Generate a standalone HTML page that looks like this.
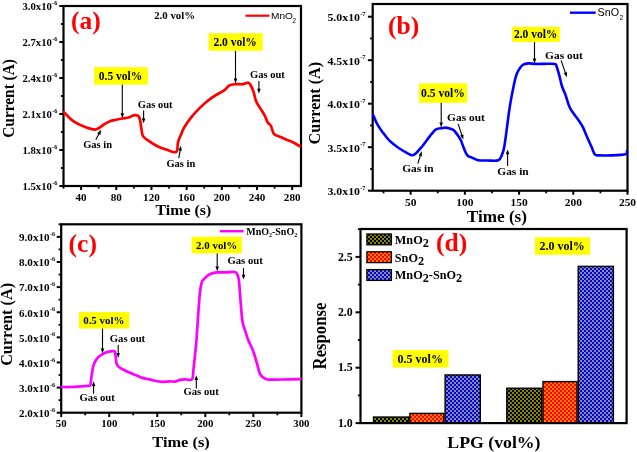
<!DOCTYPE html>
<html><head><meta charset="utf-8"><style>
html,body{margin:0;padding:0;background:#fff;}
svg{display:block;filter:blur(0.4px);}
</style></head><body>
<svg width="637" height="452" viewBox="0 0 637 452">
<rect width="637" height="452" fill="#fff"/>
<rect x="63.5" y="6" width="237.5" height="180" fill="none" stroke="#000" stroke-width="2.2"/>
<line x1="59.30" y1="6.00" x2="63.50" y2="6.00" stroke="#000" stroke-width="2"/>
<text transform="translate(51.90,10.20) scale(1.010,1)" font-size="10.60" text-anchor="end" font-weight="bold" fill="#000" font-family='"Liberation Serif", serif' >3.0x10</text>
<text transform="translate(52.10,5.30) scale(1.000,1)" font-size="6.10" text-anchor="start" font-weight="bold" fill="#000" font-family='"Liberation Serif", serif' >-6</text>
<line x1="59.30" y1="42.00" x2="63.50" y2="42.00" stroke="#000" stroke-width="2"/>
<text transform="translate(51.90,46.20) scale(1.010,1)" font-size="10.60" text-anchor="end" font-weight="bold" fill="#000" font-family='"Liberation Serif", serif' >2.7x10</text>
<text transform="translate(52.10,41.30) scale(1.000,1)" font-size="6.10" text-anchor="start" font-weight="bold" fill="#000" font-family='"Liberation Serif", serif' >-6</text>
<line x1="59.30" y1="78.00" x2="63.50" y2="78.00" stroke="#000" stroke-width="2"/>
<text transform="translate(51.90,82.20) scale(1.010,1)" font-size="10.60" text-anchor="end" font-weight="bold" fill="#000" font-family='"Liberation Serif", serif' >2.4x10</text>
<text transform="translate(52.10,77.30) scale(1.000,1)" font-size="6.10" text-anchor="start" font-weight="bold" fill="#000" font-family='"Liberation Serif", serif' >-6</text>
<line x1="59.30" y1="114.00" x2="63.50" y2="114.00" stroke="#000" stroke-width="2"/>
<text transform="translate(51.90,118.20) scale(1.010,1)" font-size="10.60" text-anchor="end" font-weight="bold" fill="#000" font-family='"Liberation Serif", serif' >2.1x10</text>
<text transform="translate(52.10,113.30) scale(1.000,1)" font-size="6.10" text-anchor="start" font-weight="bold" fill="#000" font-family='"Liberation Serif", serif' >-6</text>
<line x1="59.30" y1="150.00" x2="63.50" y2="150.00" stroke="#000" stroke-width="2"/>
<text transform="translate(51.90,154.20) scale(1.010,1)" font-size="10.60" text-anchor="end" font-weight="bold" fill="#000" font-family='"Liberation Serif", serif' >1.8x10</text>
<text transform="translate(52.10,149.30) scale(1.000,1)" font-size="6.10" text-anchor="start" font-weight="bold" fill="#000" font-family='"Liberation Serif", serif' >-6</text>
<line x1="59.30" y1="186.00" x2="63.50" y2="186.00" stroke="#000" stroke-width="2"/>
<text transform="translate(51.90,190.20) scale(1.010,1)" font-size="10.60" text-anchor="end" font-weight="bold" fill="#000" font-family='"Liberation Serif", serif' >1.5x10</text>
<text transform="translate(52.10,185.30) scale(1.000,1)" font-size="6.10" text-anchor="start" font-weight="bold" fill="#000" font-family='"Liberation Serif", serif' >-6</text>
<line x1="60.90" y1="24.00" x2="63.50" y2="24.00" stroke="#000" stroke-width="1.8"/>
<line x1="60.90" y1="60.00" x2="63.50" y2="60.00" stroke="#000" stroke-width="1.8"/>
<line x1="60.90" y1="96.00" x2="63.50" y2="96.00" stroke="#000" stroke-width="1.8"/>
<line x1="60.90" y1="132.00" x2="63.50" y2="132.00" stroke="#000" stroke-width="1.8"/>
<line x1="60.90" y1="168.00" x2="63.50" y2="168.00" stroke="#000" stroke-width="1.8"/>
<line x1="81.09" y1="186.00" x2="81.09" y2="190.00" stroke="#000" stroke-width="2"/>
<text transform="translate(81.09,200.60) scale(1.030,1)" font-size="10.80" text-anchor="middle" font-weight="bold" fill="#000" font-family='"Liberation Serif", serif' >40</text>
<line x1="116.28" y1="186.00" x2="116.28" y2="190.00" stroke="#000" stroke-width="2"/>
<text transform="translate(116.28,200.60) scale(1.030,1)" font-size="10.80" text-anchor="middle" font-weight="bold" fill="#000" font-family='"Liberation Serif", serif' >80</text>
<line x1="151.46" y1="186.00" x2="151.46" y2="190.00" stroke="#000" stroke-width="2"/>
<text transform="translate(151.46,200.60) scale(1.030,1)" font-size="10.80" text-anchor="middle" font-weight="bold" fill="#000" font-family='"Liberation Serif", serif' >120</text>
<line x1="186.65" y1="186.00" x2="186.65" y2="190.00" stroke="#000" stroke-width="2"/>
<text transform="translate(186.65,200.60) scale(1.030,1)" font-size="10.80" text-anchor="middle" font-weight="bold" fill="#000" font-family='"Liberation Serif", serif' >160</text>
<line x1="221.83" y1="186.00" x2="221.83" y2="190.00" stroke="#000" stroke-width="2"/>
<text transform="translate(221.83,200.60) scale(1.030,1)" font-size="10.80" text-anchor="middle" font-weight="bold" fill="#000" font-family='"Liberation Serif", serif' >200</text>
<line x1="257.02" y1="186.00" x2="257.02" y2="190.00" stroke="#000" stroke-width="2"/>
<text transform="translate(257.02,200.60) scale(1.030,1)" font-size="10.80" text-anchor="middle" font-weight="bold" fill="#000" font-family='"Liberation Serif", serif' >240</text>
<line x1="292.20" y1="186.00" x2="292.20" y2="190.00" stroke="#000" stroke-width="2"/>
<text transform="translate(292.20,200.60) scale(1.030,1)" font-size="10.80" text-anchor="middle" font-weight="bold" fill="#000" font-family='"Liberation Serif", serif' >280</text>
<line x1="63.50" y1="186.00" x2="63.50" y2="188.60" stroke="#000" stroke-width="1.8"/>
<line x1="98.69" y1="186.00" x2="98.69" y2="188.60" stroke="#000" stroke-width="1.8"/>
<line x1="133.87" y1="186.00" x2="133.87" y2="188.60" stroke="#000" stroke-width="1.8"/>
<line x1="169.06" y1="186.00" x2="169.06" y2="188.60" stroke="#000" stroke-width="1.8"/>
<line x1="204.24" y1="186.00" x2="204.24" y2="188.60" stroke="#000" stroke-width="1.8"/>
<line x1="239.43" y1="186.00" x2="239.43" y2="188.60" stroke="#000" stroke-width="1.8"/>
<line x1="274.61" y1="186.00" x2="274.61" y2="188.60" stroke="#000" stroke-width="1.8"/>
<text transform="translate(183.30,215.20) scale(1.060,1)" font-size="14.99" text-anchor="middle" font-weight="bold" fill="#000" font-family='"Liberation Serif", serif' >Time (s)</text>
<text transform="translate(14.0,98.4) scale(1.08,1) rotate(-90)" font-size="15.4" text-anchor="middle" font-weight="bold" font-family='"Liberation Serif", serif'>Current (A)</text>
<text transform="translate(70.90,29.20) scale(1.050,1)" font-size="24.35" text-anchor="start" font-weight="bold" fill="#ff0000" font-family='"Liberation Serif", serif' >(a)</text>
<text transform="translate(154.20,19.10) scale(1.000,1)" font-size="10.80" text-anchor="start" font-weight="bold" fill="#000" font-family='"Liberation Serif", serif' >2.0 vol%</text>
<line x1="245.50" y1="15.70" x2="269.50" y2="15.70" stroke="#ff0000" stroke-width="2.2"/>
<text transform="translate(271.00,19.40) scale(1.020,1)" font-size="9.90" text-anchor="start" font-weight="normal" fill="#000" font-family='"Liberation Sans", sans-serif' >MnO</text>
<text transform="translate(292.60,22.70) scale(1.000,1)" font-size="6.30" text-anchor="start" font-weight="normal" fill="#000" font-family='"Liberation Sans", sans-serif' >2</text>
<path d="M64.00,112.20 C65.55,113.70 69.98,118.82 73.30,121.20 C76.62,123.58 80.20,125.12 83.90,126.50 C87.60,127.88 92.18,129.83 95.50,129.50 C98.82,129.17 101.38,125.88 103.80,124.50 C106.22,123.12 107.97,121.98 110.00,121.20 C112.03,120.42 113.95,120.25 116.00,119.80 C118.05,119.35 120.47,118.83 122.30,118.50 C124.13,118.17 125.72,118.05 127.00,117.80 C128.28,117.55 129.08,117.35 130.00,117.00 C130.92,116.65 131.67,116.00 132.50,115.70 C133.33,115.40 134.17,115.23 135.00,115.20 C135.83,115.17 136.83,115.20 137.50,115.50 C138.17,115.80 138.55,116.17 139.00,117.00 C139.45,117.83 139.82,118.68 140.20,120.50 C140.58,122.32 140.80,125.25 141.30,127.90 C141.80,130.55 141.72,134.07 143.20,136.40 C144.68,138.73 147.75,140.22 150.20,141.90 C152.65,143.58 155.07,145.17 157.90,146.50 C160.73,147.83 164.15,149.00 167.20,149.90 C170.25,150.80 174.38,153.23 176.20,151.90 C178.02,150.57 177.27,144.87 178.10,141.90 C178.93,138.93 180.17,136.53 181.20,134.10 C182.23,131.67 182.50,130.25 184.30,127.30 C186.10,124.35 189.42,119.63 192.00,116.40 C194.58,113.17 197.22,110.47 199.80,107.90 C202.38,105.33 204.93,103.07 207.50,101.00 C210.07,98.93 212.37,97.32 215.20,95.50 C218.03,93.68 222.17,91.77 224.50,90.10 C226.83,88.43 227.38,86.48 229.20,85.50 C231.02,84.52 233.08,84.42 235.40,84.20 C237.72,83.98 240.92,84.45 243.10,84.20 C245.28,83.95 247.18,82.40 248.50,82.70 C249.82,83.00 250.15,84.47 251.00,86.00 C251.85,87.53 252.77,89.42 253.60,91.90 C254.43,94.38 254.93,98.23 256.00,100.90 C257.07,103.57 258.52,105.40 260.00,107.90 C261.48,110.40 263.58,113.42 264.90,115.90 C266.22,118.38 266.90,121.15 267.90,122.80 C268.90,124.45 269.90,123.97 270.90,125.80 C271.90,127.63 272.40,131.97 273.90,133.80 C275.40,135.63 277.90,135.87 279.90,136.80 C281.90,137.73 283.92,138.57 285.90,139.40 C287.88,140.23 289.45,140.67 291.80,141.80 C294.15,142.93 298.63,145.47 300.00,146.20" fill="none" stroke="#ff0000" stroke-width="2.7" stroke-linejoin="round" stroke-linecap="round"/>
<rect x="94" y="67.1" width="53.90" height="17.60" fill="#ffff00"/>
<text transform="translate(98.80,79.70) scale(1.000,1)" font-size="11.50" text-anchor="start" font-weight="bold" fill="#000" font-family='"Liberation Serif", serif' >0.5 vol%</text>
<line x1="122.30" y1="84.70" x2="122.30" y2="113.70" stroke="#000" stroke-width="1.1"/>
<polygon points="122.30,118.00 120.50,113.20 124.10,113.20" fill="#000"/>
<rect x="208.6" y="33.2" width="54.00" height="17.60" fill="#ffff00"/>
<text transform="translate(213.40,45.90) scale(1.000,1)" font-size="11.50" text-anchor="start" font-weight="bold" fill="#000" font-family='"Liberation Serif", serif' >2.0 vol%</text>
<line x1="235.50" y1="50.80" x2="235.50" y2="79.10" stroke="#000" stroke-width="1.1"/>
<polygon points="235.50,83.40 233.70,78.60 237.30,78.60" fill="#000"/>
<text transform="translate(83.20,148.40) scale(1.000,1)" font-size="10.50" text-anchor="start" font-weight="bold" fill="#000" font-family='"Liberation Serif", serif' >Gas in</text>
<line x1="95.80" y1="139.80" x2="99.09" y2="133.60" stroke="#000" stroke-width="1.1"/>
<polygon points="101.10,129.80 100.44,134.88 97.26,133.20" fill="#000"/>
<text transform="translate(137.80,108.10) scale(1.000,1)" font-size="10.50" text-anchor="start" font-weight="bold" fill="#000" font-family='"Liberation Serif", serif' >Gas out</text>
<line x1="143.60" y1="110.50" x2="143.60" y2="119.00" stroke="#000" stroke-width="1.1"/>
<polygon points="143.60,123.30 141.80,118.50 145.40,118.50" fill="#000"/>
<text transform="translate(166.40,166.80) scale(1.000,1)" font-size="10.50" text-anchor="start" font-weight="bold" fill="#000" font-family='"Liberation Serif", serif' >Gas in</text>
<line x1="178.80" y1="158.10" x2="180.18" y2="149.94" stroke="#000" stroke-width="1.1"/>
<polygon points="180.90,145.70 181.87,150.73 178.32,150.13" fill="#000"/>
<text transform="translate(250.00,78.40) scale(1.000,1)" font-size="10.50" text-anchor="start" font-weight="bold" fill="#000" font-family='"Liberation Serif", serif' >Gas out</text>
<line x1="258.90" y1="81.00" x2="258.90" y2="89.20" stroke="#000" stroke-width="1.1"/>
<polygon points="258.90,93.50 257.10,88.70 260.70,88.70" fill="#000"/>
<rect x="372.7" y="4" width="254.8" height="186.7" fill="none" stroke="#000" stroke-width="2.2"/>
<line x1="367.90" y1="16.70" x2="372.70" y2="16.70" stroke="#000" stroke-width="2"/>
<text transform="translate(360.00,21.30) scale(1.050,1)" font-size="11.30" text-anchor="end" font-weight="bold" fill="#000" font-family='"Liberation Serif", serif' >5.0x10</text>
<text transform="translate(360.20,15.50) scale(1.000,1)" font-size="6.40" text-anchor="start" font-weight="bold" fill="#000" font-family='"Liberation Serif", serif' >-7</text>
<line x1="367.90" y1="60.20" x2="372.70" y2="60.20" stroke="#000" stroke-width="2"/>
<text transform="translate(360.00,64.80) scale(1.050,1)" font-size="11.30" text-anchor="end" font-weight="bold" fill="#000" font-family='"Liberation Serif", serif' >4.5x10</text>
<text transform="translate(360.20,59.00) scale(1.000,1)" font-size="6.40" text-anchor="start" font-weight="bold" fill="#000" font-family='"Liberation Serif", serif' >-7</text>
<line x1="367.90" y1="103.70" x2="372.70" y2="103.70" stroke="#000" stroke-width="2"/>
<text transform="translate(360.00,108.30) scale(1.050,1)" font-size="11.30" text-anchor="end" font-weight="bold" fill="#000" font-family='"Liberation Serif", serif' >4.0x10</text>
<text transform="translate(360.20,102.50) scale(1.000,1)" font-size="6.40" text-anchor="start" font-weight="bold" fill="#000" font-family='"Liberation Serif", serif' >-7</text>
<line x1="367.90" y1="147.20" x2="372.70" y2="147.20" stroke="#000" stroke-width="2"/>
<text transform="translate(360.00,151.80) scale(1.050,1)" font-size="11.30" text-anchor="end" font-weight="bold" fill="#000" font-family='"Liberation Serif", serif' >3.5x10</text>
<text transform="translate(360.20,146.00) scale(1.000,1)" font-size="6.40" text-anchor="start" font-weight="bold" fill="#000" font-family='"Liberation Serif", serif' >-7</text>
<line x1="367.90" y1="190.70" x2="372.70" y2="190.70" stroke="#000" stroke-width="2"/>
<text transform="translate(360.00,195.30) scale(1.050,1)" font-size="11.30" text-anchor="end" font-weight="bold" fill="#000" font-family='"Liberation Serif", serif' >3.0x10</text>
<text transform="translate(360.20,189.50) scale(1.000,1)" font-size="6.40" text-anchor="start" font-weight="bold" fill="#000" font-family='"Liberation Serif", serif' >-7</text>
<line x1="370.10" y1="38.45" x2="372.70" y2="38.45" stroke="#000" stroke-width="1.8"/>
<line x1="370.10" y1="81.95" x2="372.70" y2="81.95" stroke="#000" stroke-width="1.8"/>
<line x1="370.10" y1="125.45" x2="372.70" y2="125.45" stroke="#000" stroke-width="1.8"/>
<line x1="370.10" y1="168.95" x2="372.70" y2="168.95" stroke="#000" stroke-width="1.8"/>
<line x1="410.65" y1="190.70" x2="410.65" y2="194.70" stroke="#000" stroke-width="2"/>
<text transform="translate(410.65,205.70) scale(1.040,1)" font-size="11.00" text-anchor="middle" font-weight="bold" fill="#000" font-family='"Liberation Serif", serif' >50</text>
<line x1="464.86" y1="190.70" x2="464.86" y2="194.70" stroke="#000" stroke-width="2"/>
<text transform="translate(464.86,205.70) scale(1.040,1)" font-size="11.00" text-anchor="middle" font-weight="bold" fill="#000" font-family='"Liberation Serif", serif' >100</text>
<line x1="519.07" y1="190.70" x2="519.07" y2="194.70" stroke="#000" stroke-width="2"/>
<text transform="translate(519.07,205.70) scale(1.040,1)" font-size="11.00" text-anchor="middle" font-weight="bold" fill="#000" font-family='"Liberation Serif", serif' >150</text>
<line x1="573.29" y1="190.70" x2="573.29" y2="194.70" stroke="#000" stroke-width="2"/>
<text transform="translate(573.29,205.70) scale(1.040,1)" font-size="11.00" text-anchor="middle" font-weight="bold" fill="#000" font-family='"Liberation Serif", serif' >200</text>
<line x1="627.50" y1="190.70" x2="627.50" y2="194.70" stroke="#000" stroke-width="2"/>
<text transform="translate(627.50,205.70) scale(1.040,1)" font-size="11.00" text-anchor="middle" font-weight="bold" fill="#000" font-family='"Liberation Serif", serif' >250</text>
<line x1="383.54" y1="190.70" x2="383.54" y2="193.30" stroke="#000" stroke-width="1.8"/>
<line x1="437.76" y1="190.70" x2="437.76" y2="193.30" stroke="#000" stroke-width="1.8"/>
<line x1="491.97" y1="190.70" x2="491.97" y2="193.30" stroke="#000" stroke-width="1.8"/>
<line x1="546.18" y1="190.70" x2="546.18" y2="193.30" stroke="#000" stroke-width="1.8"/>
<line x1="600.39" y1="190.70" x2="600.39" y2="193.30" stroke="#000" stroke-width="1.8"/>
<text transform="translate(496.90,221.50) scale(1.040,1)" font-size="16.49" text-anchor="middle" font-weight="bold" fill="#000" font-family='"Liberation Serif", serif' >Time (s)</text>
<text transform="translate(319.6,103.2) scale(1.05,1) rotate(-90)" font-size="16.1" text-anchor="middle" font-weight="bold" font-family='"Liberation Serif", serif'>Current (A)</text>
<text transform="translate(388.10,34.10) scale(1.050,1)" font-size="24.35" text-anchor="start" font-weight="bold" fill="#ff0000" font-family='"Liberation Serif", serif' >(b)</text>
<line x1="570.00" y1="12.70" x2="595.70" y2="12.70" stroke="#0000ff" stroke-width="2.4"/>
<text transform="translate(597.60,15.90) scale(1.080,1)" font-size="10.00" text-anchor="start" font-weight="normal" fill="#000" font-family='"Liberation Sans", sans-serif' >SnO</text>
<text transform="translate(619.40,19.70) scale(1.000,1)" font-size="6.80" text-anchor="start" font-weight="normal" fill="#000" font-family='"Liberation Sans", sans-serif' >2</text>
<path d="M373.20,115.00 C373.85,116.48 375.57,121.08 377.10,123.90 C378.63,126.72 380.33,129.10 382.40,131.90 C384.47,134.70 386.85,138.05 389.50,140.70 C392.15,143.35 395.35,145.73 398.30,147.80 C401.25,149.87 404.98,151.87 407.20,153.10 C409.42,154.33 410.28,155.05 411.60,155.20 C412.92,155.35 413.48,155.30 415.10,154.00 C416.72,152.70 419.08,150.05 421.30,147.40 C423.52,144.75 426.63,140.40 428.40,138.10 C430.17,135.80 430.57,135.08 431.90,133.60 C433.23,132.12 434.62,130.12 436.40,129.20 C438.18,128.28 441.08,128.37 442.60,128.10 C444.12,127.83 444.43,127.58 445.50,127.60 C446.57,127.62 447.92,127.92 449.00,128.20 C450.08,128.48 451.20,128.95 452.00,129.30 C452.80,129.65 453.13,129.70 453.80,130.30 C454.47,130.90 455.22,131.88 456.00,132.90 C456.78,133.92 457.67,135.13 458.50,136.40 C459.33,137.67 460.25,138.90 461.00,140.50 C461.75,142.10 462.33,144.25 463.00,146.00 C463.67,147.75 464.37,149.58 465.00,151.00 C465.63,152.42 466.13,153.57 466.80,154.50 C467.47,155.43 468.15,156.08 469.00,156.60 C469.85,157.12 470.38,157.00 471.90,157.60 C473.42,158.20 475.45,159.72 478.10,160.20 C480.75,160.68 484.42,160.50 487.80,160.50 C491.18,160.50 496.05,161.13 498.40,160.20 C500.75,159.27 500.95,156.97 501.90,154.90 C502.85,152.83 503.35,151.63 504.10,147.80 C504.85,143.97 505.63,137.50 506.40,131.90 C507.17,126.30 508.00,119.20 508.70,114.20 C509.40,109.20 509.83,106.30 510.60,101.90 C511.37,97.50 512.42,92.07 513.30,87.80 C514.18,83.53 515.02,79.25 515.90,76.30 C516.78,73.35 517.42,72.02 518.60,70.10 C519.78,68.18 521.38,65.92 523.00,64.80 C524.62,63.68 526.23,63.55 528.30,63.40 C530.37,63.25 532.75,63.82 535.40,63.90 C538.05,63.98 540.95,63.90 544.20,63.90 C547.45,63.90 552.83,63.47 554.90,63.90 C556.97,64.33 555.87,64.58 556.60,66.50 C557.33,68.42 558.42,72.15 559.30,75.40 C560.18,78.65 560.87,82.75 561.90,86.00 C562.93,89.25 564.25,91.43 565.50,94.90 C566.75,98.37 568.05,103.68 569.40,106.80 C570.75,109.92 572.05,111.33 573.60,113.60 C575.15,115.87 577.13,118.12 578.70,120.40 C580.27,122.68 581.57,124.45 583.00,127.30 C584.43,130.15 585.88,134.25 587.30,137.50 C588.72,140.75 590.23,143.97 591.50,146.80 C592.77,149.63 593.62,153.07 594.90,154.50 C596.18,155.93 596.50,155.25 599.20,155.40 C601.90,155.55 606.70,155.60 611.10,155.40 C615.50,155.20 622.95,154.92 625.60,154.20 C628.25,153.48 626.77,151.62 627.00,151.10" fill="none" stroke="#0000ff" stroke-width="2.6" stroke-linejoin="round" stroke-linecap="round"/>
<rect x="419.1" y="83.3" width="48.10" height="19.50" fill="#ffff00"/>
<text transform="translate(421.10,96.80) scale(1.000,1)" font-size="11.60" text-anchor="start" font-weight="bold" fill="#000" font-family='"Liberation Serif", serif' >0.5 vol%</text>
<line x1="441.20" y1="102.80" x2="441.20" y2="123.10" stroke="#000" stroke-width="1.1"/>
<polygon points="441.20,127.40 439.40,122.60 443.00,122.60" fill="#000"/>
<rect x="512.1" y="26.8" width="47.70" height="15.30" fill="#ffff00"/>
<text transform="translate(513.90,37.90) scale(1.000,1)" font-size="11.50" text-anchor="start" font-weight="bold" fill="#000" font-family='"Liberation Serif", serif' >2.0 vol%</text>
<line x1="534.50" y1="42.10" x2="534.50" y2="58.90" stroke="#000" stroke-width="1.1"/>
<polygon points="534.50,63.20 532.70,58.40 536.30,58.40" fill="#000"/>
<text transform="translate(402.20,171.70) scale(1.000,1)" font-size="11.40" text-anchor="start" font-weight="bold" fill="#000" font-family='"Liberation Serif", serif' >Gas in</text>
<line x1="417.80" y1="163.70" x2="420.41" y2="155.40" stroke="#000" stroke-width="1.1"/>
<polygon points="421.70,151.30 421.98,156.42 418.54,155.34" fill="#000"/>
<text transform="translate(447.10,120.90) scale(1.000,1)" font-size="11.40" text-anchor="start" font-weight="bold" fill="#000" font-family='"Liberation Serif", serif' >Gas out</text>
<line x1="458.10" y1="123.80" x2="461.95" y2="135.42" stroke="#000" stroke-width="1.1"/>
<polygon points="463.30,139.50 460.08,135.51 463.50,134.38" fill="#000"/>
<text transform="translate(497.30,175.30) scale(1.000,1)" font-size="11.40" text-anchor="start" font-weight="bold" fill="#000" font-family='"Liberation Serif", serif' >Gas in</text>
<line x1="507.60" y1="166.00" x2="507.60" y2="153.70" stroke="#000" stroke-width="1.1"/>
<polygon points="507.60,149.40 509.40,154.20 505.80,154.20" fill="#000"/>
<text transform="translate(545.10,59.10) scale(1.000,1)" font-size="11.40" text-anchor="start" font-weight="bold" fill="#000" font-family='"Liberation Serif", serif' >Gas out</text>
<line x1="561.10" y1="60.40" x2="565.50" y2="73.14" stroke="#000" stroke-width="1.1"/>
<polygon points="566.90,77.20 563.63,73.25 567.04,72.08" fill="#000"/>
<rect x="61.2" y="224.3" width="240.2" height="188.39999999999998" fill="none" stroke="#000" stroke-width="2.2"/>
<line x1="56.70" y1="412.70" x2="61.20" y2="412.70" stroke="#000" stroke-width="2"/>
<text transform="translate(49.60,417.00) scale(1.030,1)" font-size="10.80" text-anchor="end" font-weight="bold" fill="#000" font-family='"Liberation Serif", serif' >2.0x10</text>
<text transform="translate(49.90,411.80) scale(1.000,1)" font-size="6.20" text-anchor="start" font-weight="bold" fill="#000" font-family='"Liberation Serif", serif' >-6</text>
<line x1="56.70" y1="387.58" x2="61.20" y2="387.58" stroke="#000" stroke-width="2"/>
<text transform="translate(49.60,391.88) scale(1.030,1)" font-size="10.80" text-anchor="end" font-weight="bold" fill="#000" font-family='"Liberation Serif", serif' >3.0x10</text>
<text transform="translate(49.90,386.68) scale(1.000,1)" font-size="6.20" text-anchor="start" font-weight="bold" fill="#000" font-family='"Liberation Serif", serif' >-6</text>
<line x1="56.70" y1="362.46" x2="61.20" y2="362.46" stroke="#000" stroke-width="2"/>
<text transform="translate(49.60,366.76) scale(1.030,1)" font-size="10.80" text-anchor="end" font-weight="bold" fill="#000" font-family='"Liberation Serif", serif' >4.0x10</text>
<text transform="translate(49.90,361.56) scale(1.000,1)" font-size="6.20" text-anchor="start" font-weight="bold" fill="#000" font-family='"Liberation Serif", serif' >-6</text>
<line x1="56.70" y1="337.34" x2="61.20" y2="337.34" stroke="#000" stroke-width="2"/>
<text transform="translate(49.60,341.64) scale(1.030,1)" font-size="10.80" text-anchor="end" font-weight="bold" fill="#000" font-family='"Liberation Serif", serif' >5.0x10</text>
<text transform="translate(49.90,336.44) scale(1.000,1)" font-size="6.20" text-anchor="start" font-weight="bold" fill="#000" font-family='"Liberation Serif", serif' >-6</text>
<line x1="56.70" y1="312.22" x2="61.20" y2="312.22" stroke="#000" stroke-width="2"/>
<text transform="translate(49.60,316.52) scale(1.030,1)" font-size="10.80" text-anchor="end" font-weight="bold" fill="#000" font-family='"Liberation Serif", serif' >6.0x10</text>
<text transform="translate(49.90,311.32) scale(1.000,1)" font-size="6.20" text-anchor="start" font-weight="bold" fill="#000" font-family='"Liberation Serif", serif' >-6</text>
<line x1="56.70" y1="287.10" x2="61.20" y2="287.10" stroke="#000" stroke-width="2"/>
<text transform="translate(49.60,291.40) scale(1.030,1)" font-size="10.80" text-anchor="end" font-weight="bold" fill="#000" font-family='"Liberation Serif", serif' >7.0x10</text>
<text transform="translate(49.90,286.20) scale(1.000,1)" font-size="6.20" text-anchor="start" font-weight="bold" fill="#000" font-family='"Liberation Serif", serif' >-6</text>
<line x1="56.70" y1="261.98" x2="61.20" y2="261.98" stroke="#000" stroke-width="2"/>
<text transform="translate(49.60,266.28) scale(1.030,1)" font-size="10.80" text-anchor="end" font-weight="bold" fill="#000" font-family='"Liberation Serif", serif' >8.0x10</text>
<text transform="translate(49.90,261.08) scale(1.000,1)" font-size="6.20" text-anchor="start" font-weight="bold" fill="#000" font-family='"Liberation Serif", serif' >-6</text>
<line x1="56.70" y1="236.86" x2="61.20" y2="236.86" stroke="#000" stroke-width="2"/>
<text transform="translate(49.60,241.16) scale(1.030,1)" font-size="10.80" text-anchor="end" font-weight="bold" fill="#000" font-family='"Liberation Serif", serif' >9.0x10</text>
<text transform="translate(49.90,235.96) scale(1.000,1)" font-size="6.20" text-anchor="start" font-weight="bold" fill="#000" font-family='"Liberation Serif", serif' >-6</text>
<line x1="58.60" y1="400.14" x2="61.20" y2="400.14" stroke="#000" stroke-width="1.8"/>
<line x1="58.60" y1="375.02" x2="61.20" y2="375.02" stroke="#000" stroke-width="1.8"/>
<line x1="58.60" y1="349.90" x2="61.20" y2="349.90" stroke="#000" stroke-width="1.8"/>
<line x1="58.60" y1="324.78" x2="61.20" y2="324.78" stroke="#000" stroke-width="1.8"/>
<line x1="58.60" y1="299.66" x2="61.20" y2="299.66" stroke="#000" stroke-width="1.8"/>
<line x1="58.60" y1="274.54" x2="61.20" y2="274.54" stroke="#000" stroke-width="1.8"/>
<line x1="58.60" y1="249.42" x2="61.20" y2="249.42" stroke="#000" stroke-width="1.8"/>
<line x1="58.60" y1="224.30" x2="61.20" y2="224.30" stroke="#000" stroke-width="1.8"/>
<line x1="61.20" y1="412.70" x2="61.20" y2="417.00" stroke="#000" stroke-width="2"/>
<text transform="translate(61.20,427.30) scale(1.020,1)" font-size="10.60" text-anchor="middle" font-weight="bold" fill="#000" font-family='"Liberation Serif", serif' >50</text>
<line x1="109.24" y1="412.70" x2="109.24" y2="417.00" stroke="#000" stroke-width="2"/>
<text transform="translate(109.24,427.30) scale(1.020,1)" font-size="10.60" text-anchor="middle" font-weight="bold" fill="#000" font-family='"Liberation Serif", serif' >100</text>
<line x1="157.28" y1="412.70" x2="157.28" y2="417.00" stroke="#000" stroke-width="2"/>
<text transform="translate(157.28,427.30) scale(1.020,1)" font-size="10.60" text-anchor="middle" font-weight="bold" fill="#000" font-family='"Liberation Serif", serif' >150</text>
<line x1="205.32" y1="412.70" x2="205.32" y2="417.00" stroke="#000" stroke-width="2"/>
<text transform="translate(205.32,427.30) scale(1.020,1)" font-size="10.60" text-anchor="middle" font-weight="bold" fill="#000" font-family='"Liberation Serif", serif' >200</text>
<line x1="253.36" y1="412.70" x2="253.36" y2="417.00" stroke="#000" stroke-width="2"/>
<text transform="translate(253.36,427.30) scale(1.020,1)" font-size="10.60" text-anchor="middle" font-weight="bold" fill="#000" font-family='"Liberation Serif", serif' >250</text>
<line x1="301.40" y1="412.70" x2="301.40" y2="417.00" stroke="#000" stroke-width="2"/>
<text transform="translate(301.40,427.30) scale(1.020,1)" font-size="10.60" text-anchor="middle" font-weight="bold" fill="#000" font-family='"Liberation Serif", serif' >300</text>
<line x1="85.22" y1="412.70" x2="85.22" y2="415.30" stroke="#000" stroke-width="1.8"/>
<line x1="133.26" y1="412.70" x2="133.26" y2="415.30" stroke="#000" stroke-width="1.8"/>
<line x1="181.30" y1="412.70" x2="181.30" y2="415.30" stroke="#000" stroke-width="1.8"/>
<line x1="229.34" y1="412.70" x2="229.34" y2="415.30" stroke="#000" stroke-width="1.8"/>
<line x1="277.38" y1="412.70" x2="277.38" y2="415.30" stroke="#000" stroke-width="1.8"/>
<text transform="translate(181.00,446.70) scale(1.075,1)" font-size="15.24" text-anchor="middle" font-weight="bold" fill="#000" font-family='"Liberation Serif", serif' >Time (s)</text>
<text transform="translate(12.1,324.4) scale(1.03,1) rotate(-90)" font-size="16.2" text-anchor="middle" font-weight="bold" font-family='"Liberation Serif", serif'>Current (A)</text>
<text transform="translate(68.60,251.90) scale(1.050,1)" font-size="24.35" text-anchor="start" font-weight="bold" fill="#ff0000" font-family='"Liberation Serif", serif' >(c)</text>
<line x1="220.00" y1="231.20" x2="243.60" y2="231.20" stroke="#ff00ff" stroke-width="2.4"/>
<text x="246.2" y="235" font-size="10" font-weight="bold" font-family='"Liberation Serif", serif'>MnO<tspan font-size="6" dy="2.2">2</tspan><tspan dy="-2.2">-SnO</tspan><tspan font-size="6" dy="2.2">2</tspan></text>
<path d="M61.80,387.00 C63.27,387.00 67.37,387.12 70.60,387.00 C73.83,386.88 78.05,386.50 81.20,386.30 C84.35,386.10 87.93,386.27 89.50,385.80 C91.07,385.33 90.22,385.38 90.60,383.50 C90.98,381.62 91.37,377.33 91.80,374.50 C92.23,371.67 92.60,368.75 93.20,366.50 C93.80,364.25 94.55,362.55 95.40,361.00 C96.25,359.45 97.12,358.33 98.30,357.20 C99.48,356.07 101.07,355.05 102.50,354.20 C103.93,353.35 104.98,352.60 106.90,352.10 C108.82,351.60 112.62,351.05 114.00,351.20 C115.38,351.35 114.77,350.93 115.20,353.00 C115.63,355.07 115.92,361.23 116.60,363.60 C117.28,365.97 117.82,366.02 119.30,367.20 C120.78,368.38 123.28,369.58 125.50,370.70 C127.72,371.82 130.35,372.93 132.60,373.90 C134.85,374.87 137.27,375.80 139.00,376.50 C140.73,377.20 141.23,377.62 143.00,378.10 C144.77,378.58 147.62,378.95 149.60,379.40 C151.58,379.85 152.92,380.40 154.90,380.80 C156.88,381.20 159.07,381.72 161.50,381.80 C163.93,381.88 167.28,381.33 169.50,381.30 C171.72,381.27 173.03,381.83 174.80,381.60 C176.57,381.37 178.33,380.27 180.10,379.90 C181.87,379.53 183.42,379.48 185.40,379.40 C187.38,379.32 190.67,380.98 192.00,379.40 C193.33,377.82 192.95,373.47 193.40,369.90 C193.85,366.33 194.18,363.05 194.70,358.00 C195.22,352.95 195.90,347.08 196.50,339.60 C197.10,332.12 197.72,321.05 198.30,313.10 C198.88,305.15 199.42,297.07 200.00,291.90 C200.58,286.73 201.05,284.32 201.80,282.10 C202.55,279.88 203.17,279.92 204.50,278.60 C205.83,277.28 207.73,275.23 209.80,274.20 C211.87,273.17 214.25,272.70 216.90,272.40 C219.55,272.10 222.75,272.47 225.70,272.40 C228.65,272.33 232.68,271.70 234.60,272.00 C236.52,272.30 236.47,272.67 237.20,274.20 C237.93,275.73 238.40,276.20 239.00,281.20 C239.60,286.20 240.22,297.42 240.80,304.20 C241.38,310.98 241.77,317.47 242.50,321.90 C243.23,326.33 244.25,327.77 245.20,330.80 C246.15,333.83 246.93,336.88 248.20,340.10 C249.47,343.32 251.38,346.37 252.80,350.10 C254.22,353.83 255.53,358.62 256.70,362.50 C257.87,366.38 258.77,370.95 259.80,373.40 C260.83,375.85 261.62,376.18 262.90,377.20 C264.18,378.22 264.42,379.12 267.50,379.50 C270.58,379.88 275.90,379.55 281.40,379.50 C286.90,379.45 297.32,379.25 300.50,379.20" fill="none" stroke="#ff00ff" stroke-width="2.7" stroke-linejoin="round" stroke-linecap="round"/>
<rect x="78.9" y="312.1" width="50.40" height="16.50" fill="#ffff00"/>
<text transform="translate(83.20,324.30) scale(1.000,1)" font-size="10.90" text-anchor="start" font-weight="bold" fill="#000" font-family='"Liberation Serif", serif' >0.5 vol%</text>
<line x1="102.50" y1="328.60" x2="102.50" y2="348.90" stroke="#000" stroke-width="1.1"/>
<polygon points="102.50,353.20 100.70,348.40 104.30,348.40" fill="#000"/>
<rect x="191.6" y="236.7" width="50.40" height="16.70" fill="#ffff00"/>
<text transform="translate(196.10,248.90) scale(1.000,1)" font-size="10.90" text-anchor="start" font-weight="bold" fill="#000" font-family='"Liberation Serif", serif' >2.0 vol%</text>
<line x1="217.20" y1="253.40" x2="217.20" y2="267.00" stroke="#000" stroke-width="1.1"/>
<polygon points="217.20,271.30 215.40,266.50 219.00,266.50" fill="#000"/>
<text transform="translate(79.50,401.20) scale(1.000,1)" font-size="10.70" text-anchor="start" font-weight="bold" fill="#000" font-family='"Liberation Serif", serif' >Gas out</text>
<line x1="93.60" y1="393.70" x2="93.60" y2="385.60" stroke="#000" stroke-width="1.1"/>
<polygon points="93.60,381.30 95.40,386.10 91.80,386.10" fill="#000"/>
<text transform="translate(109.80,341.90) scale(1.000,1)" font-size="10.70" text-anchor="start" font-weight="bold" fill="#000" font-family='"Liberation Serif", serif' >Gas out</text>
<line x1="118.20" y1="345.00" x2="118.20" y2="353.60" stroke="#000" stroke-width="1.1"/>
<polygon points="118.20,357.90 116.40,353.10 120.00,353.10" fill="#000"/>
<text transform="translate(183.40,395.40) scale(1.000,1)" font-size="10.70" text-anchor="start" font-weight="bold" fill="#000" font-family='"Liberation Serif", serif' >Gas out</text>
<line x1="196.30" y1="388.50" x2="196.30" y2="379.50" stroke="#000" stroke-width="1.1"/>
<polygon points="196.30,375.20 198.10,380.00 194.50,380.00" fill="#000"/>
<text transform="translate(227.40,264.20) scale(1.000,1)" font-size="10.70" text-anchor="start" font-weight="bold" fill="#000" font-family='"Liberation Serif", serif' >Gas out</text>
<line x1="243.50" y1="268.00" x2="243.50" y2="275.30" stroke="#000" stroke-width="1.1"/>
<polygon points="243.50,279.60 241.70,274.80 245.30,274.80" fill="#000"/>
<defs>
<pattern id="pM" width="4" height="4" patternUnits="userSpaceOnUse"><rect width="4" height="4" fill="#000"/><rect width="2" height="2" fill="#888800"/><rect x="2" y="2" width="2" height="2" fill="#888800"/></pattern>
<pattern id="pS" width="4" height="4" patternUnits="userSpaceOnUse"><rect width="4" height="4" fill="#ff0000"/><rect width="2" height="2" fill="#ff8000"/><rect x="2" y="2" width="2" height="2" fill="#ff8000"/></pattern>
<pattern id="pB" width="4" height="4" patternUnits="userSpaceOnUse"><rect width="4" height="4" fill="#0000ff"/><rect width="2" height="2" fill="#8e8e7c"/><rect x="2" y="2" width="2" height="2" fill="#8e8e7c"/></pattern>
</defs>
<rect x="373.50" y="417.05" width="35.20" height="6.05" fill="url(#pM)" stroke="#000" stroke-width="1.4"/>
<rect x="409.90" y="413.40" width="34.00" height="9.70" fill="url(#pS)" stroke="#000" stroke-width="1.4"/>
<rect x="445.10" y="374.95" width="35.20" height="48.15" fill="url(#pB)" stroke="#000" stroke-width="1.4"/>
<rect x="506.80" y="388.24" width="35.00" height="34.86" fill="url(#pM)" stroke="#000" stroke-width="1.4"/>
<rect x="543.00" y="381.60" width="34.00" height="41.50" fill="url(#pS)" stroke="#000" stroke-width="1.4"/>
<rect x="578.20" y="266.36" width="35.20" height="156.74" fill="url(#pB)" stroke="#000" stroke-width="1.4"/>
<rect x="360.5" y="229" width="266.1" height="194.10000000000002" fill="none" stroke="#000" stroke-width="2.2"/>
<line x1="355.50" y1="423.10" x2="360.50" y2="423.10" stroke="#000" stroke-width="2"/>
<text transform="translate(352.70,426.80) scale(1.030,1)" font-size="11.50" text-anchor="end" font-weight="bold" fill="#000" font-family='"Liberation Serif", serif' >1.0</text>
<line x1="355.50" y1="367.70" x2="360.50" y2="367.70" stroke="#000" stroke-width="2"/>
<text transform="translate(352.70,371.40) scale(1.030,1)" font-size="11.50" text-anchor="end" font-weight="bold" fill="#000" font-family='"Liberation Serif", serif' >1.5</text>
<line x1="355.50" y1="312.30" x2="360.50" y2="312.30" stroke="#000" stroke-width="2"/>
<text transform="translate(352.70,316.00) scale(1.030,1)" font-size="11.50" text-anchor="end" font-weight="bold" fill="#000" font-family='"Liberation Serif", serif' >2.0</text>
<line x1="355.50" y1="256.90" x2="360.50" y2="256.90" stroke="#000" stroke-width="2"/>
<text transform="translate(352.70,260.60) scale(1.030,1)" font-size="11.50" text-anchor="end" font-weight="bold" fill="#000" font-family='"Liberation Serif", serif' >2.5</text>
<line x1="357.90" y1="395.40" x2="360.50" y2="395.40" stroke="#000" stroke-width="1.8"/>
<line x1="357.90" y1="340.00" x2="360.50" y2="340.00" stroke="#000" stroke-width="1.8"/>
<line x1="357.90" y1="284.60" x2="360.50" y2="284.60" stroke="#000" stroke-width="1.8"/>
<line x1="357.90" y1="229.20" x2="360.50" y2="229.20" stroke="#000" stroke-width="1.8"/>
<text transform="translate(493.90,447.50) scale(1.030,1)" font-size="17.25" text-anchor="middle" font-weight="bold" fill="#000" font-family='"Liberation Serif", serif' >LPG (vol%)</text>
<text transform="translate(326.3,336) scale(1.1,1) rotate(-90)" font-size="16.7" text-anchor="middle" font-weight="bold" font-family='"Liberation Serif", serif'>Response</text>
<text transform="translate(436.00,250.80) scale(1.050,1)" font-size="24.35" text-anchor="start" font-weight="bold" fill="#ff0000" font-family='"Liberation Serif", serif' >(d)</text>
<rect x="366.9" y="234.00" width="24.5" height="10.8" fill="url(#pM)" stroke="#000" stroke-width="1.3"/>
<text transform="translate(394.8,243.70) scale(1.03,1)" font-size="11.9" font-weight="bold" font-family='"Liberation Serif", serif'>MnO<tspan dy="3" font-size="11.9">2</tspan></text>
<rect x="366.9" y="251.80" width="24.5" height="10.8" fill="url(#pS)" stroke="#000" stroke-width="1.3"/>
<text transform="translate(394.8,261.50) scale(1.03,1)" font-size="11.9" font-weight="bold" font-family='"Liberation Serif", serif'>SnO<tspan dy="3" font-size="11.9">2</tspan></text>
<rect x="366.9" y="269.60" width="24.5" height="10.8" fill="url(#pB)" stroke="#000" stroke-width="1.3"/>
<text transform="translate(394.8,279.30) scale(1.03,1)" font-size="11.9" font-weight="bold" font-family='"Liberation Serif", serif'>MnO<tspan dy="3" font-size="11.9">2</tspan><tspan dy="-3">-SnO</tspan><tspan dy="3" font-size="11.9">2</tspan></text>
<rect x="392.5" y="350.1" width="56.00" height="17.40" fill="#ffff00"/>
<text transform="translate(397.60,363.10) scale(1.000,1)" font-size="12.00" text-anchor="start" font-weight="bold" fill="#000" font-family='"Liberation Serif", serif' >0.5 vol%</text>
<rect x="534.9" y="237.3" width="55.30" height="17.50" fill="#ffff00"/>
<text transform="translate(539.40,250.00) scale(1.000,1)" font-size="12.00" text-anchor="start" font-weight="bold" fill="#000" font-family='"Liberation Serif", serif' >2.0 vol%</text>
</svg>
</body></html>
